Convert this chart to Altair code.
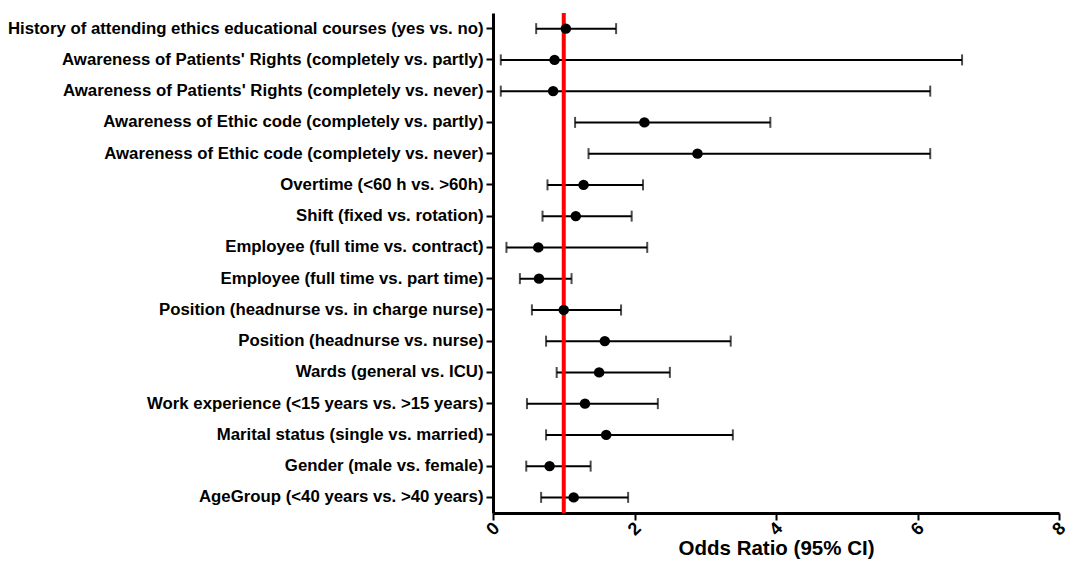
import altair as alt
import pandas as pd

labels = [
    "History of attending ethics educational courses (yes vs. no)",
    "Awareness of Patients' Rights (completely vs. partly)",
    "Awareness of Patients' Rights (completely vs. never)",
    "Awareness of Ethic code (completely vs. partly)",
    "Awareness of Ethic code (completely vs. never)",
    "Overtime (<60 h vs. >60h)",
    "Shift (fixed vs. rotation)",
    "Employee (full time vs. contract)",
    "Employee (full time vs. part time)",
    "Position (headnurse vs. in charge nurse)",
    "Position (headnurse vs. nurse)",
    "Wards (general vs. ICU)",
    "Work experience (<15 years vs. >15 years)",
    "Marital status (single vs. married)",
    "Gender (male vs. female)",
    "AgeGroup (<40 years vs. >40 years)",
]
odds = [1.03, 0.87, 0.85, 2.14, 2.89, 1.28, 1.17, 0.64, 0.65, 1.00, 1.58, 1.50, 1.30, 1.60, 0.80, 1.14]
lower = [0.61, 0.11, 0.11, 1.16, 1.35, 0.77, 0.70, 0.19, 0.38, 0.55, 0.75, 0.90, 0.48, 0.75, 0.47, 0.68]
upper = [1.74, 6.63, 6.18, 3.92, 6.18, 2.12, 1.96, 2.18, 1.11, 1.81, 3.36, 2.50, 2.33, 3.39, 1.38, 1.91]
ref_value = [1]
x_ticks = [0, 2, 4, 6, 8]

df = pd.DataFrame({"label": labels, "odds": odds, "lower": lower, "upper": upper})
ref = pd.DataFrame({"ref": ref_value})

FONT = "Liberation Sans"

y_enc = alt.Y(
    "label:N",
    sort=labels,
    title=None,
    scale=alt.Scale(paddingInner=0, paddingOuter=0),
    axis=alt.Axis(
        labelFont=FONT, labelFontWeight="bold", labelFontSize=16.8, labelColor="black",
        labelLimit=0,
        domainColor="black", domainWidth=3, tickColor="black", tickWidth=2, tickSize=7,
        labelPadding=3,
    ),
)
x_scale = alt.Scale(domain=[0, 8], nice=False, zero=True)
x_enc = alt.X(
    "lower:Q",
    scale=x_scale,
    title="Odds Ratio (95% CI)",
    axis=alt.Axis(
        values=x_ticks, format="d", labelAngle=-45, labelAlign="center", labelBaseline="middle",
        labelFont=FONT, labelFontWeight="bold", labelFontSize=18, labelColor="black",
        labelPadding=9,
        domainColor="black", domainWidth=3, tickColor="black", tickWidth=2, tickSize=7,
        titleFont=FONT, titleFontWeight="bold", titleFontSize=20.5, titleColor="black",
        titlePadding=0, grid=False,
    ),
)

base = alt.Chart(df)

bars = base.mark_rule(color="black", strokeWidth=2).encode(y=y_enc, x=x_enc, x2="upper:Q")
cap_lo = base.mark_tick(color="black", thickness=2, size=11, orient="vertical").encode(
    y=alt.Y("label:N", sort=labels), x=alt.X("lower:Q", scale=x_scale)
)
cap_hi = base.mark_tick(color="black", thickness=2, size=11, orient="vertical").encode(
    y=alt.Y("label:N", sort=labels), x=alt.X("upper:Q", scale=x_scale)
)
refline = alt.Chart(ref).mark_rule(color="#ff0000", strokeWidth=4).encode(
    x=alt.X("ref:Q", scale=x_scale)
)
pts = base.mark_circle(color="black", opacity=1, size=110).encode(
    y=alt.Y("label:N", sort=labels), x=alt.X("odds:Q", scale=x_scale)
)

chart = (
    alt.layer(bars, cap_lo, cap_hi, refline, pts)
    .properties(
        width=566,
        height=500,
        autosize=alt.AutoSizeParams(type="none"),
        padding={"left": 485, "top": 5, "right": 9, "bottom": 48},
        view=alt.ViewBackground(stroke="transparent", strokeWidth=0),
    )
    .configure_view(stroke="transparent", strokeWidth=0)
    .configure(background="white")
)

chart.save("out.html", embed_options={"renderer": "svg", "actions": False})
